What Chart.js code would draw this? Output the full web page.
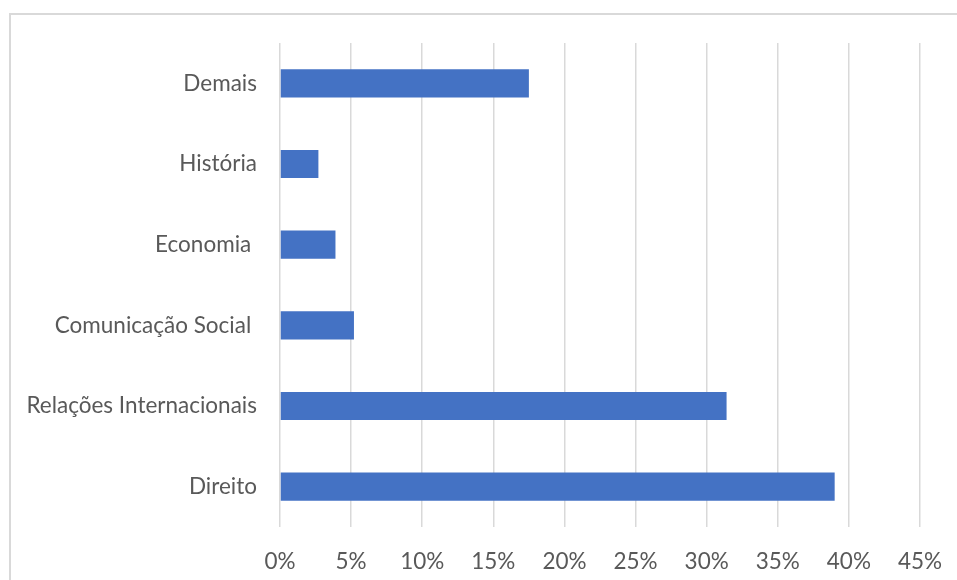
<!DOCTYPE html>
<html>
<head>
<meta charset="utf-8">
<script src="https://cdn.jsdelivr.net/npm/chart.js@4"></script>
<style>
  html, body { margin: 0; padding: 0; background: #fff; overflow: hidden; }
  #frame { position: absolute; left: 9px; top: 13px; width: 1000px; height: 620px; border: 2px solid #d9d9d9; }
  #wrap { position: absolute; left: 0; top: 0; width: 957px; height: 580px; }
</style>
</head>
<body>
<div id="frame"></div>
<div id="wrap"><canvas id="courseChart"></canvas></div>
<script>
// categories top to bottom, shares as fractions
const courses = ["Demais", "História", "Economia ", "Comunicação Social ", "Relações Internacionais", "Direito"];
const shares = [0.175, 0.027, 0.039, 0.052, 0.314, 0.390];
const xMax = 0.45;
const xStep = 0.05;

const textColor = "#595959";
const gridColor = "#d9d9d9";
const font = { family: "Lato", size: 22.5 };

new Chart(document.getElementById("courseChart"), {
    type: "bar",
    data: {
        labels: courses,
        datasets: [{
            data: shares,
            backgroundColor: "#4472c4",
            barPercentage: 0.35,
            categoryPercentage: 1
        }]
    },
    options: {
        indexAxis: "y",
        responsive: true,
        maintainAspectRatio: false,
        animation: false,
        layout: { padding: { left: 0, top: 43, right: 37, bottom: 0 } },
        plugins: { legend: { display: false }, tooltip: { enabled: false } },
        scales: {
            x: {
                min: 0,
                max: xMax,
                ticks: {
                    stepSize: xStep,
                    color: textColor,
                    font: font,
                    padding: 21,
                    maxRotation: 0,
                    callback: v => Math.round(v * 100) + "%"
                },
                grid: { color: gridColor, lineWidth: 1.5, drawTicks: false },
                border: { display: false },
                afterFit: s => { s.height = 53; s.paddingLeft = 0; s.paddingRight = 0; }
            },
            y: {
                ticks: { color: textColor, font: font, padding: 23 },
                grid: { display: false, drawTicks: false },
                border: { display: false },
                afterFit: s => { s.width = 280; }
            }
        }
    }
});
</script>
</body>
</html>
